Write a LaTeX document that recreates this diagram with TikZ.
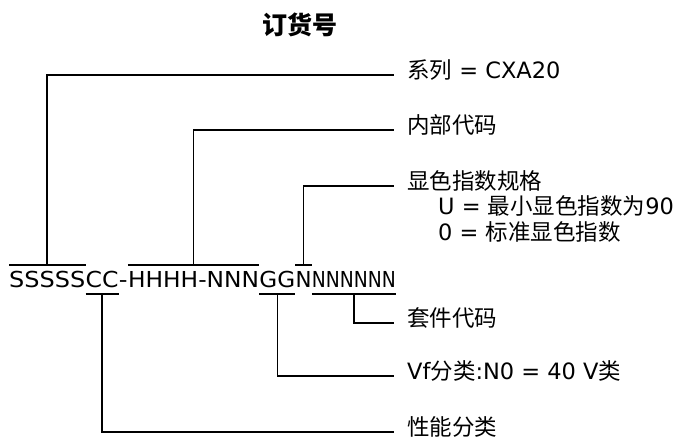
\documentclass[tikz,border=0pt]{standalone}
\usepackage{fontspec}
\setmainfont{DejaVu Sans}
\newfontfamily\cjk{Noto Sans CJK SC}
\usetikzlibrary{positioning}

\tikzset{
  code/.style={inner sep=0pt, anchor=base west, font=\fontsize{22}{27}\selectfont\addfontfeature{FakeStretch=#1}},
  code/.default=1,
  lbl/.style={anchor=west, inner xsep=13pt, inner ysep=0pt, text height=0.82em, text depth=0.1em, font=\fontsize{22.5}{27}\selectfont},
  sublbl/.style={lbl, inner xsep=0pt},
  bar/.style={line width=1.6pt}
}

\begin{document}
\begin{tikzpicture}[x=1pt,y=-1pt]
\useasboundingbox (0,0) rectangle (681,442);
\node[font=\cjk\bfseries\fontsize{25}{30}\selectfont, inner sep=0pt] (title) at (300,25) {订货号};

\node[code=1.09] (ser) at (9,287) {SSSSS};
\node[code=1.07] (perf) at (ser.base east) {CC};
\node[code=1.1] (dash1) at (perf.base east) {-};
\node[code=1.06] (int) at (dash1.base east) {HHHH-NNN};
\node[code=1.05] (vf) at (int.base east) {GG};
\node[code=0.97] (cri) at (vf.base east) {N};
\node[code=0.85] (kit) at (cri.base east) {NNNNNN};
\coordinate (top) at (0,265);
\coordinate (bot) at (0,294);

\node[lbl] (l1) at (394,75) {{\cjk 系列} = CXA20};
\node[lbl] (l2) at (394,130) {\cjk 内部代码};
\node[lbl] (l3) at (394,186) {\cjk 显色指数规格};
\node[sublbl] (l3a) at (438,211) {U = {\cjk 最小显色指数为}90};
\node[sublbl] (l3b) at (438,237) {0 = {\cjk 标准显色指数}};
\node[lbl] (l4) at (394,323) {\cjk 套件代码};
\node[lbl] (l5) at (394,376) {Vf{\cjk 分类}:N0 = 40 V{\cjk 类}};
\node[lbl] (l6) at (394,432) {\cjk 性能分类};

\begin{scope}[bar]
\draw (ser.west |- top) -- (ser.east |- top);
\draw (int.west |- top) -- (int.east |- top);
\draw (cri.west |- top) -- (cri.east |- top);
\draw (perf.west |- bot) -- (perf.east |- bot);
\draw (vf.west |- bot) -- (vf.east |- bot);
\draw (kit.west |- bot) -- (kit.east |- bot);
\draw (ser.north |- top) |- (l1.west);
\draw (int.north |- top) |- (l2.west);
\draw (cri.north |- top) |- (l3.west);
\draw (kit.south |- bot) |- (l4.west);
\draw (vf.south |- bot) |- (l5.west);
\draw (perf.south |- bot) |- (l6.west);
\end{scope}
\end{tikzpicture}
\end{document}
